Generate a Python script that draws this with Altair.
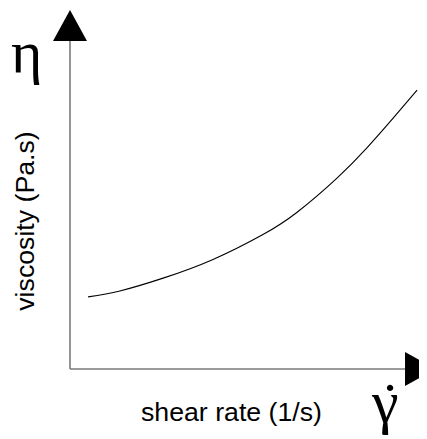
import altair as alt
import pandas as pd

# Curve (arbitrary units: each axis runs 0..10)
shear_rate = [0.54, 1.49, 2.78, 4.27, 5.76, 6.78, 7.97, 8.87, 9.64, 10.36]
viscosity = [2.20, 2.38, 2.77, 3.34, 4.10, 4.78, 5.82, 6.75, 7.64, 8.50]

axis_end = 10
x_label = "shear rate (1/s)"
y_label = "viscosity (Pa.s)"
eta_symbol = "η"
gamma_symbol = "γ"
dot_symbol = "˙"

curve = pd.DataFrame({"x": shear_rate, "y": viscosity})
xaxis_df = pd.DataFrame({"x": [0], "x2": [axis_end], "y": [0]})
yaxis_df = pd.DataFrame({"x": [0], "y": [0], "y2": [axis_end]})
up_df = pd.DataFrame({"x": [0], "y": [axis_end]})
right_df = pd.DataFrame({"x": [axis_end], "y": [0]})

W, H = 411, 431
PX_X, PX_Y = 33.5, 32.8          # pixels per unit
ORIGIN_X, ORIGIN_Y = 62, 361      # axis origin inside the plot area
xs = alt.Scale(domain=[-ORIGIN_X / PX_X, (W - ORIGIN_X) / PX_X], nice=False, zero=False)
ys = alt.Scale(domain=[-(H - ORIGIN_Y) / PX_Y, ORIGIN_Y / PX_Y], nice=False, zero=False)

AX_COLOR = "#7a7a7a"

X = alt.X("x:Q", scale=xs, axis=None)
Y = alt.Y("y:Q", scale=ys, axis=None)

xline = alt.Chart(xaxis_df).mark_rule(color=AX_COLOR, strokeWidth=1.6).encode(x=X, x2="x2:Q", y=Y)
yline = alt.Chart(yaxis_df).mark_rule(color=AX_COLOR, strokeWidth=1.6).encode(x=X, y=Y, y2="y2:Q")
up_arrow = alt.Chart(up_df).mark_point(
    shape="M0,-0.91L1,0.91L-1,0.91Z", size=1156, filled=True, color="black",
    opacity=1, yOffset=-15.5
).encode(x=X, y=Y)
right_arrow = alt.Chart(right_df).mark_point(
    shape="M0.91,0L-0.91,-1L-0.91,1Z", size=1156, filled=True, color="black",
    opacity=1, xOffset=15.5
).encode(x=X, y=Y)

line = alt.Chart(curve).mark_line(color="black", strokeWidth=1.1, interpolate="natural").encode(x=X, y=Y)

def label(text, x, y, size, font, angle=0, align="left"):
    return alt.Chart(pd.DataFrame({"t": [text]})).mark_text(
        font=font, fontSize=size, align=align, baseline="alphabetic", angle=angle, color="black"
    ).encode(x=alt.value(x), y=alt.value(y), text="t:N")

eta = label(eta_symbol, 3, 64, 60, "Liberation Serif")
gam = label(gamma_symbol, 364, 414, 60, "Liberation Serif")
dot = label(dot_symbol, 382, 416, 60, "Liberation Serif", align="center")
xlab = label(x_label, 133, 413, 26.7, "Liberation Sans")
ylab = label(y_label, 26, 213, 26.7, "Liberation Sans", angle=270, align="center")

chart = alt.layer(xline, yline, line, up_arrow, right_arrow, eta, gam, dot, xlab, ylab).properties(
    width=W, height=H, autosize=alt.AutoSizeParams(type="none"), padding=0
).configure_view(stroke=None)

chart.save("out.html", embed_options={"renderer": "svg", "actions": False})
